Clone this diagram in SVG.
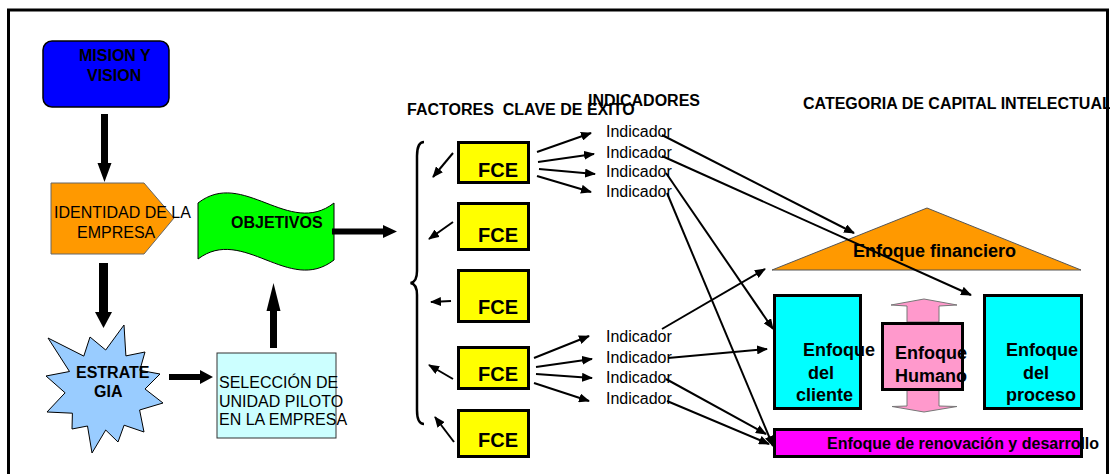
<svg xmlns="http://www.w3.org/2000/svg" width="1110" height="474" viewBox="0 0 1110 474">
  <style>
    text { font-family: "Liberation Sans", Arial, sans-serif; fill: #000; }
    .b { font-weight: bold; font-size: 16px; }
    .r { font-size: 16px; }
    .pre { white-space: pre; }
    .fce-t { font-weight: bold; font-size: 20px; }
    .big { font-weight: bold; font-size: 18px; }
    .fce { fill: #FFFF00; stroke: #000; stroke-width: 3; }
    .blk { fill: #000; }
    .thin { fill: none; stroke: #000; stroke-width: 2; }
  </style>
  <defs>
    <marker id="ah" markerUnits="userSpaceOnUse" markerWidth="11" markerHeight="9" refX="10" refY="4.5" orient="auto">
      <path d="M0,0 L11,4.5 L0,9 z" fill="#000"/>
    </marker>
  </defs>

  <rect width="1110" height="474" fill="#fff"/>

  <!-- headers -->
  <g id="headers">
    <text class="b pre" xml:space="preserve" x="407" y="115">FACTORES  CLAVE DE EXITO</text>
    <text class="b" x="588" y="106">INDICADORES</text>
    <text class="b" x="803" y="109">CATEGORIA DE CAPITAL INTELECTUAL</text>
  </g>

  <!-- left-hand process -->
  <g id="mision">
    <rect x="43" y="41" width="126" height="66" rx="9" fill="#0000FF" stroke="#000" stroke-width="1.5"/>
    <text class="b" x="79" y="61">MISION Y</text>
    <text class="b" x="87" y="81">VISION</text>
  </g>

  <g id="identidad">
    <polygon points="51,183 144,183 174,218 144,254 51,254" fill="#FF9900" stroke="#666" stroke-width="1"/>
    <text class="r" x="54" y="218">IDENTIDAD DE LA</text>
    <text class="r" x="77" y="238">EMPRESA</text>
  </g>

  <g id="objetivos">
    <path d="M198,203 C243,168 289,238 334,203 L334,260 C289,295 243,225 198,259 Z" fill="#00FF00" stroke="#000" stroke-width="1"/>
    <text class="b" x="231" y="228">OBJETIVOS</text>
  </g>

  <g id="estrategia">
    <polygon points="124,325 125.9,355.9 145,352 139.8,370.3 160,374 145,389 163,403 139.6,410 144,432 124.1,425.2 118,442 105.7,430 92,453 87.5,426 72,429 72.4,413.2 47,412 65.1,392.8 46,376 69.5,371.5 48,338 83.8,356.1 90,337 105.7,350" fill="#99CCFF" stroke="#000" stroke-width="1"/>
    <text class="b" x="76" y="378">ESTRATE</text>
    <text class="b" x="94" y="397">GIA</text>
  </g>

  <g id="seleccion">
    <rect x="217" y="353" width="119" height="85" fill="#CCFFFF" stroke="#333" stroke-width="1"/>
    <text class="r" x="219" y="388">SELECCIÓN DE</text>
    <text class="r" x="219" y="407">UNIDAD PILOTO</text>
    <text class="r" x="219" y="425">EN LA EMPRESA</text>
  </g>

  <!-- critical success factors -->
  <g id="fce1"><rect class="fce" x="458.5" y="142.5" width="70" height="40"/><text class="fce-t" x="478" y="177">FCE</text></g>
  <g id="fce2"><rect class="fce" x="458.5" y="203.5" width="70" height="46"/><text class="fce-t" x="478" y="242">FCE</text></g>
  <g id="fce3"><rect class="fce" x="458.5" y="270.5" width="70" height="51"/><text class="fce-t" x="478" y="314">FCE</text></g>
  <g id="fce4"><rect class="fce" x="458.5" y="347.5" width="70" height="41"/><text class="fce-t" x="478" y="381">FCE</text></g>
  <g id="fce5"><rect class="fce" x="458.5" y="410.5" width="70" height="46"/><text class="fce-t" x="478" y="447">FCE</text></g>

  <!-- indicators -->
  <g id="indicadores">
    <text class="r" x="606" y="137">Indicador</text>
    <text class="r" x="606" y="158">Indicador</text>
    <text class="r" x="606" y="177">Indicador</text>
    <text class="r" x="606" y="197">Indicador</text>
    <text class="r" x="606" y="342">Indicador</text>
    <text class="r" x="606" y="363">Indicador</text>
    <text class="r" x="606" y="383">Indicador</text>
    <text class="r" x="606" y="404">Indicador</text>
  </g>

  <!-- intellectual capital categories -->
  <g id="financiero">
    <polygon points="927,208 1081,270 772,270" fill="#FF9900" stroke="#555" stroke-width="1"/>
    <text class="big" x="853" y="257">Enfoque financiero</text>
  </g>

  <g id="cliente">
    <rect x="774.5" y="295.5" width="86" height="113" fill="#00FFFF" stroke="#000" stroke-width="3"/>
    <text class="big" x="803" y="356">Enfoque</text>
    <text class="big" x="808" y="379">del</text>
    <text class="big" x="796" y="401">cliente</text>
  </g>

  <g id="humano">
    <polygon points="924,299 957,305 939,306 939,322 907,322 907,306 891,305" fill="#FF99CC" stroke="#777" stroke-width="1"/>
    <polygon points="907,390 939,390 939,406 957,406.5 924,412 892,406.5 907,406" fill="#FF99CC" stroke="#777" stroke-width="1"/>
    <rect x="882.5" y="323.5" width="80" height="66" fill="#FF99CC" stroke="#000" stroke-width="3"/>
    <text class="big" x="895" y="359">Enfoque</text>
    <text class="big" x="895" y="382">Humano</text>
  </g>

  <g id="proceso">
    <rect x="984.5" y="295.5" width="97" height="113" fill="#00FFFF" stroke="#000" stroke-width="3"/>
    <text class="big" x="1006" y="356">Enfoque</text>
    <text class="big" x="1023" y="379">del</text>
    <text class="big" x="1006" y="401">proceso</text>
  </g>

  <g id="renovacion">
    <rect x="774.5" y="429.5" width="307" height="27" fill="#FF00FF" stroke="#000" stroke-width="3"/>
    <text class="b" x="827" y="449">Enfoque de renovación y desarrollo</text>
  </g>

  <!-- connectors -->
  <g id="connectors">
    <!-- block arrows of the left-hand process -->
    <polygon class="blk" points="101,114 108,114 108,163 111.5,163 104.5,182 97.5,163 101,163"/>
    <polygon class="blk" points="99,263 108,263 108,312 112,312 103.5,328 95,312 99,312"/>
    <polygon class="blk" points="169,374 200,374 200,370 213,377 200,384 200,380 169,380"/>
    <polygon class="blk" points="270,348 277,348 277,311 280.5,311 273.5,283 266.5,311 270,311"/>
    <polygon class="blk" points="332,228.5 383,228.5 383,225 397,231.5 383,238 383,234.5 332,234.5"/>

    <!-- brace grouping the factors -->
    <path d="M424,142 Q417,142 417,156 L417,271 Q417,282 410.5,283 Q417,284 417,295 L417,410 Q417,424 424,424" fill="none" stroke="#000" stroke-width="2.5"/>

    <!-- factors pointing to the brace -->
    <line class="thin" x1="453" y1="153" x2="433" y2="177" marker-end="url(#ah)"/>
    <line class="thin" x1="453" y1="222" x2="429" y2="239" marker-end="url(#ah)"/>
    <line class="thin" x1="451" y1="301" x2="431" y2="302" marker-end="url(#ah)"/>
    <line class="thin" x1="453" y1="379" x2="429" y2="365" marker-end="url(#ah)"/>
    <line class="thin" x1="454" y1="442" x2="435" y2="417" marker-end="url(#ah)"/>

    <!-- factors to indicators -->
    <line class="thin" x1="537" y1="152" x2="591" y2="133" marker-end="url(#ah)"/>
    <line class="thin" x1="538" y1="162" x2="594" y2="154" marker-end="url(#ah)"/>
    <line class="thin" x1="539" y1="169" x2="595" y2="174" marker-end="url(#ah)"/>
    <line class="thin" x1="537" y1="176" x2="591" y2="192" marker-end="url(#ah)"/>
    <line class="thin" x1="534" y1="358" x2="589" y2="336" marker-end="url(#ah)"/>
    <line class="thin" x1="536" y1="367" x2="592" y2="359" marker-end="url(#ah)"/>
    <line class="thin" x1="536" y1="374" x2="592" y2="378" marker-end="url(#ah)"/>
    <line class="thin" x1="534" y1="383" x2="589" y2="401" marker-end="url(#ah)"/>

    <!-- indicators to capital categories -->
    <line class="thin" x1="662" y1="135" x2="854" y2="233" marker-end="url(#ah)"/>
    <line class="thin" x1="662" y1="156" x2="971" y2="295" marker-end="url(#ah)"/>
    <line class="thin" x1="666" y1="173" x2="773" y2="329" marker-end="url(#ah)"/>
    <line class="thin" x1="667" y1="193" x2="773" y2="446" marker-end="url(#ah)"/>
    <line class="thin" x1="662" y1="329" x2="765" y2="269" marker-end="url(#ah)"/>
    <line class="thin" x1="668" y1="358" x2="767" y2="349" marker-end="url(#ah)"/>
    <line class="thin" x1="666" y1="379" x2="766" y2="434" marker-end="url(#ah)"/>
    <line class="thin" x1="667" y1="401" x2="769" y2="444" marker-end="url(#ah)"/>
  </g>

  <!-- outer frame -->
  <g id="frame">
    <path d="M8.5,480 L8.5,10 L1107.5,10 L1107.5,480" fill="none" stroke="#000" stroke-width="3"/>
  </g>
</svg>
